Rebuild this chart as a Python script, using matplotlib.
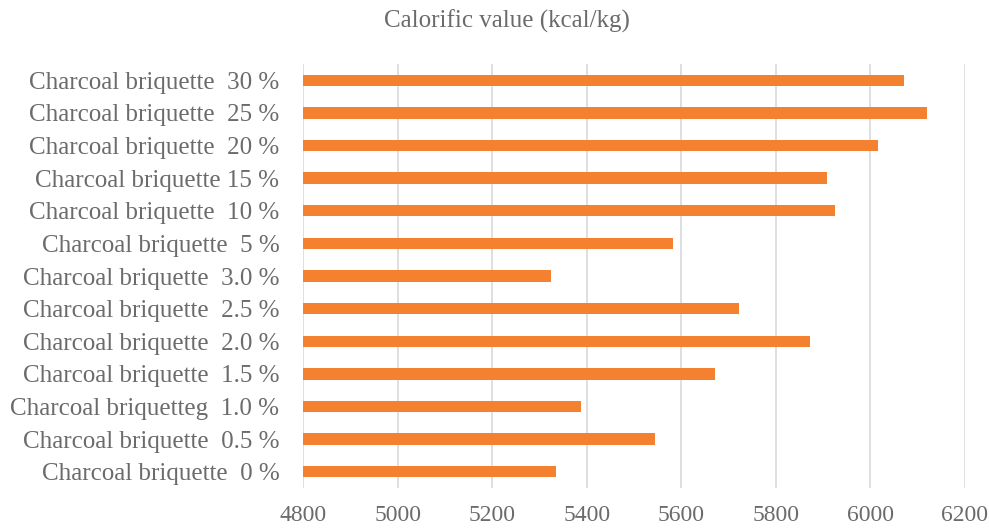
import matplotlib
matplotlib.use("Agg")
import matplotlib.pyplot as plt
import numpy as np

labels = ['Charcoal briquette  0 %', 'Charcoal briquette  0.5 %', 'Charcoal briquetteg  1.0 %',
          'Charcoal briquette  1.5 %', 'Charcoal briquette  2.0 %', 'Charcoal briquette  2.5 %',
          'Charcoal briquette  3.0 %', 'Charcoal briquette  5 %', 'Charcoal briquette  10 %',
          'Charcoal briquette 15 %', 'Charcoal briquette  20 %', 'Charcoal briquette  25 %',
          'Charcoal briquette  30 %']
values = [5336, 5544, 5388, 5672, 5873, 5722, 5325, 5582, 5926, 5909, 6015, 6119, 6071]
xticks = [4800, 5000, 5200, 5400, 5600, 5800, 6000, 6200]

plt.rcParams['font.family'] = ['Liberation Serif', 'DejaVu Serif']
grey = '#6B6B6B'

fig = plt.figure(figsize=(9.89, 5.29), dpi=100)
ax = fig.add_axes([303/989, 1 - 488/529, (965 - 303)/989, (488 - 64)/529])

y = np.arange(len(labels))
ax.barh(y, np.array(values) - 4800, left=4800, height=0.35, color='#F4812F', zorder=3)

ax.set_xlim(4800, 6200)
ax.set_ylim(-0.5, len(labels) - 0.5)
ax.set_xticks(xticks)
ax.set_yticks(y)
ax.set_yticklabels(labels)
ax.tick_params(axis='both', length=0, colors=grey)
ax.tick_params(axis='y', pad=17, labelsize=18)
ax.tick_params(axis='x', pad=12, labelsize=17)
ax.grid(axis='x', color='#D9D9D9', linewidth=1.2, zorder=0)
for s in ax.spines.values():
    s.set_visible(False)

fig.text(507/989, 1 - 21/529, 'Calorific value (kcal/kg)', ha='center', va='center',
         fontsize=18, color=grey)

fig.savefig('out.png', dpi=100)
